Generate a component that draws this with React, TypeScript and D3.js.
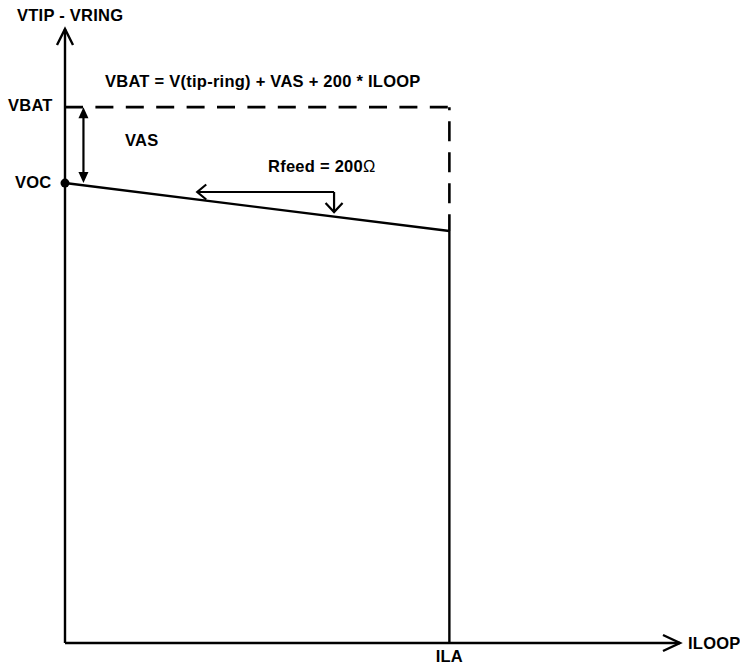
import React from "react";
import * as d3 from "d3";

// axis extents (mA, V)
const currentRange = [0, 40];
const voltageRange = [0, 55];

// levels marked on the voltage axis
const voltageLevels = [
  { label: "VBAT", value: 48 },
  { label: "VOC", value: 41.2 },
];

// current marked on the ILOOP axis
const currentMarks = [{ label: "ILA", value: 25 }];

// load line: open circuit voltage falling through Rfeed up to ILA
const loadLine: [number, number][] = [
  [0, 41.2],
  [25, 36.9],
];

// Rfeed annotation arrow (current, voltage)
const rfeedArrow: [number, number][] = [
  [17.5, 40.4],
  [8.6, 40.4],
];
const rfeedDrop: [number, number][] = [
  [17.5, 40.4],
  [17.5, 38.6],
];

// VAS double arrow position on the current axis
const vasCurrent = 1.2;

const FONT = "'Liberation Sans', Arial, Helvetica, sans-serif";

function chevron(tx: number, ty: number, dx: number, dy: number, len: number, half: number) {
  // dx,dy: unit direction the arrow points to
  const bx = tx - dx * len;
  const by = ty - dy * len;
  const px = -dy;
  const py = dx;
  return `M${bx + px * half},${by + py * half}L${tx},${ty}L${bx - px * half},${by - py * half}`;
}

export default function App() {
  const width = 740;
  const height = 666;

  const x = d3.scaleLinear().domain(currentRange).range([65, 680]);
  const y = d3.scaleLinear().domain(voltageRange).range([643, 29]);

  const line = d3
    .line<[number, number]>()
    .x((d) => x(d[0]))
    .y((d) => y(d[1]));

  const vbat = voltageLevels[0].value;
  const voc = voltageLevels[1].value;
  const ila = currentMarks[0].value;
  const lineEnd = loadLine[loadLine.length - 1];

  const x0 = x(0);
  const y0 = y(0);
  const xTop = x(currentRange[1]);
  const yTop = y(voltageRange[1]);

  const textStyle = {
    fontFamily: FONT,
    fontWeight: "bold" as const,
    fontSize: 16.5,
    letterSpacing: 0.25,
    fill: "#000",
  };

  const vasX = x(vasCurrent);

  return (
    <svg
      width={width}
      height={height}
      style={{ position: "absolute", left: 0, top: 0, background: "#fff" }}
    >
      {/* axes */}
      <line x1={x0} y1={y0} x2={x0} y2={yTop} stroke="#000" strokeWidth={2.4} />
      <line x1={x0} y1={y0} x2={xTop} y2={y0} stroke="#000" strokeWidth={2.4} />
      <path d={chevron(x0, yTop, 0, -1, 16, 8)} fill="none" stroke="#000" strokeWidth={2.4} />
      <path d={chevron(xTop, y0, 1, 0, 17, 8)} fill="none" stroke="#000" strokeWidth={2.4} />

      {/* VBAT dashed limit */}
      <line
        x1={x0}
        y1={y(vbat)}
        x2={x(ila)}
        y2={y(vbat)}
        stroke="#000"
        strokeWidth={2.6}
        strokeDasharray="18 12.4"
      />
      <line
        x1={x(ila)}
        y1={y(vbat)}
        x2={x(ila)}
        y2={y(lineEnd[1])}
        stroke="#000"
        strokeWidth={2.6}
        strokeDasharray="20 11"
        strokeDashoffset={17}
      />

      {/* ILA solid drop */}
      <line x1={x(ila)} y1={y(lineEnd[1])} x2={x(ila)} y2={y0} stroke="#000" strokeWidth={2.4} />

      {/* load line */}
      <path d={line(loadLine) || ""} fill="none" stroke="#000" strokeWidth={2.4} />
      <circle cx={x(0)} cy={y(voc)} r={4.5} fill="#000" />

      {/* VAS double arrow */}
      <line x1={vasX} y1={y(vbat) + 8} x2={vasX} y2={y(voc) - 8} stroke="#000" strokeWidth={2.2} />
      <path
        d={`M${vasX},${y(vbat)}L${vasX - 5},${y(vbat) + 11}L${vasX + 5},${y(vbat) + 11}Z`}
        fill="#000"
      />
      <path
        d={`M${vasX},${y(voc)}L${vasX - 5},${y(voc) - 11}L${vasX + 5},${y(voc) - 11}Z`}
        fill="#000"
      />

      {/* Rfeed arrows */}
      <path d={line(rfeedArrow) || ""} fill="none" stroke="#000" strokeWidth={2.2} />
      <path d={line(rfeedDrop) || ""} fill="none" stroke="#000" strokeWidth={2.2} />
      <path
        d={chevron(x(rfeedArrow[1][0]), y(rfeedArrow[1][1]), -1, 0, 9, 7.5)}
        fill="none"
        stroke="#000"
        strokeWidth={2.2}
      />
      <path
        d={chevron(x(rfeedDrop[1][0]), y(rfeedDrop[1][1]), 0, 1, 9, 8.5)}
        fill="none"
        stroke="#000"
        strokeWidth={2.2}
      />

      {/* labels */}
      <text x={17} y={21} style={textStyle}>VTIP - VRING</text>
      <text x={688} y={649} style={textStyle}>ILOOP</text>
      <text x={x(ila)} y={662} textAnchor="middle" style={textStyle}>
        {currentMarks[0].label}
      </text>
      <text x={8} y={y(vbat) + 4} style={textStyle}>{voltageLevels[0].label}</text>
      <text x={15} y={y(voc) + 5} style={textStyle}>{voltageLevels[1].label}</text>
      <text x={125} y={146} style={textStyle}>VAS</text>
      <text x={105} y={87} style={textStyle}>VBAT = V(tip-ring) + VAS + 200 * ILOOP</text>
      <text x={268} y={172} style={textStyle}>
        Rfeed = 200<tspan fontWeight="normal">Ω</tspan>
      </text>
    </svg>
  );
}
